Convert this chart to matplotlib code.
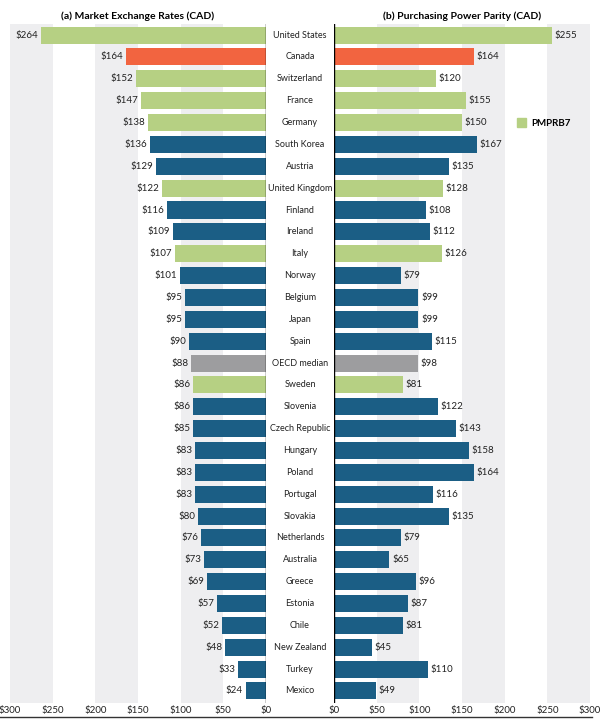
import matplotlib
matplotlib.use("Agg")
import matplotlib.pyplot as plt
from matplotlib.lines import Line2D
from matplotlib.patches import Patch

plt.rcParams['font.family'] = ['Lato', 'DejaVu Sans']

countries = ["United States", "Canada", "Switzerland", "France", "Germany",
             "South Korea", "Austria", "United Kingdom", "Finland", "Ireland",
             "Italy", "Norway", "Belgium", "Japan", "Spain", "OECD median",
             "Sweden", "Slovenia", "Czech Republic", "Hungary", "Poland",
             "Portugal", "Slovakia", "Netherlands", "Australia", "Greece",
             "Estonia", "Chile", "New Zealand", "Turkey", "Mexico"]
mer = [264, 164, 152, 147, 138, 136, 129, 122, 116, 109, 107, 101, 95, 95, 90,
       88, 86, 86, 85, 83, 83, 83, 80, 76, 73, 69, 57, 52, 48, 33, 24]
ppp = [255, 164, 120, 155, 150, 167, 135, 128, 108, 112, 126, 79, 99, 99, 115,
       98, 81, 122, 143, 158, 164, 116, 135, 79, 65, 96, 87, 81, 45, 110, 49]
group = ["pmprb", "canada", "pmprb", "pmprb", "pmprb", "other", "other", "pmprb",
         "other", "other", "pmprb", "other", "other", "other", "other", "median",
         "pmprb", "other", "other", "other", "other", "other", "other", "other",
         "other", "other", "other", "other", "other", "other", "other"]
ticks = [0, 50, 100, 150, 200, 250, 300]

colors = {"pmprb": "#b6d083", "canada": "#f26440", "other": "#1b5e85",
          "median": "#9d9d9f"}
band = "#eeeef0"
bar_colors = [colors[g] for g in group]
y = list(range(len(countries)))

fig = plt.figure(figsize=(6.04, 7.26), dpi=100)
axL = fig.add_axes([10 / 604, 0.0317, 256 / 604, 0.935])
axR = fig.add_axes([334 / 604, 0.0317, 256 / 604, 0.935])

for ax, vals, side in [(axL, mer, "left"), (axR, ppp, "right")]:
    for lo in (50, 150, 250):
        ax.axvspan(lo, lo + 50, color=band, lw=0, zorder=0)
    ax.barh(y, vals, height=0.78, color=bar_colors, zorder=2)
    ax.set_xlim(0, 300)
    ax.set_ylim(30.55, -0.5)
    ax.set_yticks([])
    ax.set_xticks(ticks)
    ax.set_xticklabels(["$%d" % t for t in ticks], fontsize=7, color="#222222")
    ax.tick_params(axis="x", length=0, pad=2)
    for s in ax.spines.values():
        s.set_visible(False)
    for yi, v in zip(y, vals):
        if side == "left":
            ax.text(v + 3, yi, "$%d" % v, ha="right", va="center", fontsize=7,
                    color="#222222")
        else:
            ax.text(v + 3, yi, "$%d" % v, ha="left", va="center", fontsize=7,
                    color="#222222")

axL.invert_xaxis()
axL.axvline(0, color="black", lw=1, zorder=3)
axR.axvline(0, color="black", lw=1, zorder=3)

axL.set_title("(a) Market Exchange Rates (CAD)", fontsize=7.5, fontweight="bold",
              pad=4)
axR.set_title("(b) Purchasing Power Parity (CAD)", fontsize=7.5, fontweight="bold",
              pad=4)

for yi, c in zip(y, countries):
    axL.annotate(c, xy=(0, yi), xycoords="data", xytext=(34, 0),
                 textcoords="offset pixels", ha="center", va="center",
                 fontsize=6.5, color="#222222", annotation_clip=False)

fig.add_artist(Line2D([0, 592 / 604], [1 - 717 / 726, 1 - 717 / 726],
                      color="#333333", lw=1))

fig.legend(handles=[Patch(color=colors["pmprb"], label="PMPRB7")],
           loc="center left", bbox_to_anchor=(508 / 604, 1 - 123 / 726),
           frameon=False, fontsize=7, handlelength=1, handleheight=1,
           handletextpad=0.5, prop={"weight": "bold", "size": 7})

fig.savefig("out.png", dpi=100)
